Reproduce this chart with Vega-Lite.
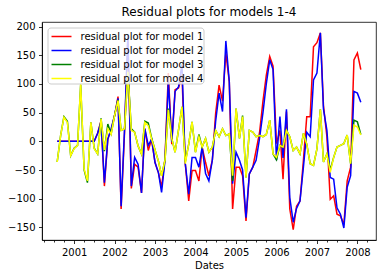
{
  "$schema": "https://vega.github.io/schema/vega-lite/v6.json",
  "width": 334,
  "height": 218,
  "autosize": {"type": "none"},
  "padding": {"left": 42, "top": 22, "right": 11, "bottom": 38},
  "title": {"text": "Residual plots for models 1-4", "fontSize": 12, "fontWeight": "normal", "font": "DejaVu Sans", "color": "black", "offset": 3},
  "data": {"values": [
    {"d":"2000-08-01","m1":0,"m2":0,"m3":-36,"m4":-36},
    {"d":"2000-09-01","m1":0,"m2":0,"m3":10,"m4":10},
    {"d":"2000-10-01","m1":0,"m2":0,"m3":43,"m4":42},
    {"d":"2000-11-01","m1":0,"m2":0,"m3":35,"m4":33},
    {"d":"2000-12-01","m1":0,"m2":0,"m3":-25,"m4":-25},
    {"d":"2001-01-01","m1":0,"m2":0,"m3":-12,"m4":-13},
    {"d":"2001-02-01","m1":0,"m2":0,"m3":-7,"m4":-7},
    {"d":"2001-03-01","m1":0,"m2":0,"m3":98,"m4":100},
    {"d":"2001-04-01","m1":0,"m2":0,"m3":-50,"m4":-48},
    {"d":"2001-05-01","m1":0,"m2":0,"m3":-72,"m4":-69},
    {"d":"2001-06-01","m1":0,"m2":0,"m3":33,"m4":33},
    {"d":"2001-07-01","m1":0,"m2":0,"m3":-12,"m4":-13},
    {"d":"2001-08-01","m1":14,"m2":14,"m3":-22,"m4":-22},
    {"d":"2001-09-01","m1":36,"m2":34,"m3":40,"m4":39},
    {"d":"2001-10-01","m1":-78,"m2":-72,"m3":-17,"m4":-15},
    {"d":"2001-11-01","m1":4,"m2":4,"m3":30,"m4":22},
    {"d":"2001-12-01","m1":20,"m2":22,"m3":13,"m4":12},
    {"d":"2002-01-01","m1":45,"m2":45,"m3":45,"m4":45},
    {"d":"2002-02-01","m1":78,"m2":75,"m3":72,"m4":71},
    {"d":"2002-03-01","m1":-118,"m2":-113,"m3":19,"m4":19},
    {"d":"2002-04-01","m1":16,"m2":22,"m3":22,"m4":22},
    {"d":"2002-05-01","m1":180,"m2":186,"m3":120,"m4":121},
    {"d":"2002-06-01","m1":-82,"m2":-78,"m3":22,"m4":19},
    {"d":"2002-07-01","m1":-40,"m2":-28,"m3":16,"m4":16},
    {"d":"2002-08-01","m1":-45,"m2":-40,"m3":-8,"m4":-8},
    {"d":"2002-09-01","m1":-90,"m2":-90,"m3":-22,"m4":-22},
    {"d":"2002-10-01","m1":22,"m2":22,"m3":35,"m4":33},
    {"d":"2002-11-01","m1":-16,"m2":-7,"m3":32,"m4":27},
    {"d":"2002-12-01","m1":4,"m2":4,"m3":6,"m4":4},
    {"d":"2003-01-01","m1":-37,"m2":-37,"m3":-15,"m4":-15},
    {"d":"2003-02-01","m1":-55,"m2":-55,"m3":-35,"m4":-35},
    {"d":"2003-03-01","m1":-80,"m2":-89,"m3":-60,"m4":-60},
    {"d":"2003-04-01","m1":-30,"m2":-33,"m3":-33,"m4":-33},
    {"d":"2003-05-01","m1":119,"m2":104,"m3":57,"m4":55},
    {"d":"2003-06-01","m1":-5,"m2":-1,"m3":5,"m4":5},
    {"d":"2003-07-01","m1":90,"m2":87,"m3":-19,"m4":-19},
    {"d":"2003-08-01","m1":93,"m2":95,"m3":20,"m4":20},
    {"d":"2003-09-01","m1":115,"m2":134,"m3":60,"m4":60},
    {"d":"2003-10-01","m1":-39,"m2":-39,"m3":-36,"m4":-39},
    {"d":"2003-11-01","m1":-104,"m2":-92,"m3":-5,"m4":-5},
    {"d":"2003-12-01","m1":-51,"m2":-28,"m3":34,"m4":34},
    {"d":"2004-01-01","m1":-51,"m2":-28,"m3":-19,"m4":-19},
    {"d":"2004-02-01","m1":-69,"m2":-45,"m3":12,"m4":8},
    {"d":"2004-03-01","m1":-10,"m2":-10,"m3":-10,"m4":-10},
    {"d":"2004-04-01","m1":-37,"m2":-56,"m3":5,"m4":5},
    {"d":"2004-05-01","m1":-60,"m2":-69,"m3":-19,"m4":-19},
    {"d":"2004-06-01","m1":-33,"m2":-33,"m3":-10,"m4":-10},
    {"d":"2004-07-01","m1":49,"m2":35,"m3":19,"m4":19},
    {"d":"2004-08-01","m1":98,"m2":84,"m3":8,"m4":8},
    {"d":"2004-09-01","m1":70,"m2":52,"m3":22,"m4":22},
    {"d":"2004-10-01","m1":154,"m2":175,"m3":10,"m4":10},
    {"d":"2004-11-01","m1":104,"m2":104,"m3":13,"m4":13},
    {"d":"2004-12-01","m1":-118,"m2":-74,"m3":-69,"m4":-60},
    {"d":"2005-01-01","m1":-45,"m2":-19,"m3":57,"m4":57},
    {"d":"2005-02-01","m1":-45,"m2":-33,"m3":5,"m4":5},
    {"d":"2005-03-01","m1":-60,"m2":-50,"m3":45,"m4":43},
    {"d":"2005-04-01","m1":-139,"m2":-133,"m3":-63,"m4":-63},
    {"d":"2005-05-01","m1":-57,"m2":-57,"m3":19,"m4":19},
    {"d":"2005-06-01","m1":-45,"m2":-45,"m3":16,"m4":16},
    {"d":"2005-07-01","m1":-16,"m2":-33,"m3":8,"m4":8},
    {"d":"2005-08-01","m1":15,"m2":5,"m3":10,"m4":10},
    {"d":"2005-09-01","m1":70,"m2":50,"m3":8,"m4":8},
    {"d":"2005-10-01","m1":115,"m2":100,"m3":12,"m4":12},
    {"d":"2005-11-01","m1":148,"m2":142,"m3":37,"m4":37},
    {"d":"2005-12-01","m1":131,"m2":125,"m3":-22,"m4":-22},
    {"d":"2006-01-01","m1":-4,"m2":-33,"m3":-32,"m4":-28},
    {"d":"2006-02-01","m1":19,"m2":43,"m3":-7,"m4":-7},
    {"d":"2006-03-01","m1":-66,"m2":-29,"m3":-10,"m4":-10},
    {"d":"2006-04-01","m1":52,"m2":56,"m3":19,"m4":19},
    {"d":"2006-05-01","m1":-118,"m2":-98,"m3":8,"m4":8},
    {"d":"2006-06-01","m1":-154,"m2":-141,"m3":-16,"m4":-16},
    {"d":"2006-07-01","m1":-113,"m2":-117,"m3":-10,"m4":-10},
    {"d":"2006-08-01","m1":-104,"m2":-104,"m3":-22,"m4":-22},
    {"d":"2006-09-01","m1":-33,"m2":-45,"m3":14,"m4":14},
    {"d":"2006-10-01","m1":43,"m2":16,"m3":-5,"m4":-5},
    {"d":"2006-11-01","m1":43,"m2":8,"m3":-39,"m4":-39},
    {"d":"2006-12-01","m1":165,"m2":107,"m3":-42,"m4":-42},
    {"d":"2007-01-01","m1":172,"m2":119,"m3":-13,"m4":-13},
    {"d":"2007-02-01","m1":189,"m2":189,"m3":56,"m4":56},
    {"d":"2007-03-01","m1":62,"m2":56,"m3":-36,"m4":-36},
    {"d":"2007-04-01","m1":8,"m2":19,"m3":-22,"m4":-22},
    {"d":"2007-05-01","m1":-101,"m2":-63,"m3":-50,"m4":-54},
    {"d":"2007-06-01","m1":-95,"m2":-66,"m3":-28,"m4":-28},
    {"d":"2007-07-01","m1":-127,"m2":-116,"m3":-10,"m4":-10},
    {"d":"2007-08-01","m1":-130,"m2":-127,"m3":-7,"m4":-7},
    {"d":"2007-09-01","m1":-145,"m2":-151,"m3":-4,"m4":-4},
    {"d":"2007-10-01","m1":-69,"m2":-80,"m3":11,"m4":11},
    {"d":"2007-11-01","m1":-45,"m2":-60,"m3":-39,"m4":-39},
    {"d":"2007-12-01","m1":142,"m2":87,"m3":37,"m4":28},
    {"d":"2008-01-01","m1":154,"m2":84,"m3":34,"m4":25},
    {"d":"2008-02-01","m1":125,"m2":68,"m3":12,"m4":11}
  ]},
  "transform": [{"fold": ["m1", "m2", "m3", "m4"], "as": ["model", "value"]}],
  "mark": {"type": "line", "strokeWidth": 1.5, "clip": true},
  "encoding": {
    "x": {
      "field": "d", "type": "temporal",
      "scale": {"domain": [{"year": 2000, "month": 3, "date": 17}, {"year": 2008, "month": 6, "date": 17}]},
      "axis": {
        "title": "Dates",
        "values": [
          {"year":2000,"month":4,"date":1},{"year":2000,"month":7,"date":1},{"year":2000,"month":10,"date":1},
          {"year":2001,"month":1,"date":1},{"year":2001,"month":4,"date":1},{"year":2001,"month":7,"date":1},{"year":2001,"month":10,"date":1},
          {"year":2002,"month":1,"date":1},{"year":2002,"month":4,"date":1},{"year":2002,"month":7,"date":1},{"year":2002,"month":10,"date":1},
          {"year":2003,"month":1,"date":1},{"year":2003,"month":4,"date":1},{"year":2003,"month":7,"date":1},{"year":2003,"month":10,"date":1},
          {"year":2004,"month":1,"date":1},{"year":2004,"month":4,"date":1},{"year":2004,"month":7,"date":1},{"year":2004,"month":10,"date":1},
          {"year":2005,"month":1,"date":1},{"year":2005,"month":4,"date":1},{"year":2005,"month":7,"date":1},{"year":2005,"month":10,"date":1},
          {"year":2006,"month":1,"date":1},{"year":2006,"month":4,"date":1},{"year":2006,"month":7,"date":1},{"year":2006,"month":10,"date":1},
          {"year":2007,"month":1,"date":1},{"year":2007,"month":4,"date":1},{"year":2007,"month":7,"date":1},{"year":2007,"month":10,"date":1},
          {"year":2008,"month":1,"date":1},{"year":2008,"month":4,"date":1}
        ],
        "labelExpr": "month(datum.value) == 0 ? timeFormat(datum.value, '%Y') : ''",
        "tickSize": {"condition": {"test": "month(datum.value) == 0", "value": 3.5}, "value": 2},
        "labelPadding": 3.5,
        "titlePadding": 3,
        "labelOverlap": false,
        "labelFlush": false
      }
    },
    "y": {
      "field": "value", "type": "quantitative",
      "scale": {"domain": [-172, 208], "nice": false, "zero": false},
      "axis": {"title": null, "values": [-150, -100, -50, 0, 50, 100, 150, 200], "tickSize": 3.5, "labelPadding": 3.5}
    },
    "color": {
      "field": "model", "type": "nominal",
      "scale": {"domain": ["m1", "m2", "m3", "m4"], "range": ["#ff0000", "#0000ff", "#008000", "#ffff00"]},
      "legend": {
        "title": null,
        "orient": "none",
        "legendX": 5.5,
        "legendY": 5.5,
        "fillColor": "rgba(255,255,255,0.8)",
        "strokeColor": "#cccccc",
        "cornerRadius": 3,
        "padding": 0,
        "symbolType": "M-1.25,0H1.25",
        "symbolSize": 256,
        "symbolStrokeWidth": 1.5,
        "symbolOffset": 5,
        "labelOffset": 10,
        "rowPadding": -1,
        "labelFontSize": 10,
        "labelColor": "black",
        "labelFont": "DejaVu Sans",
        "labelExpr": "'residual plot for model ' + slice(datum.label, 1) + '  '"
      }
    }
  },
  "config": {
    "font": "DejaVu Sans",
    "view": {"stroke": "black", "strokeWidth": 0.8},
    "axis": {
      "domainColor": "black", "domainWidth": 0.8, "tickColor": "black", "tickWidth": 0.8,
      "labelColor": "black", "labelFontSize": 10, "titleFontSize": 10, "titleFontWeight": "normal",
      "titleColor": "black", "grid": false, "labelFont": "DejaVu Sans", "titleFont": "DejaVu Sans"
    }
  }
}
